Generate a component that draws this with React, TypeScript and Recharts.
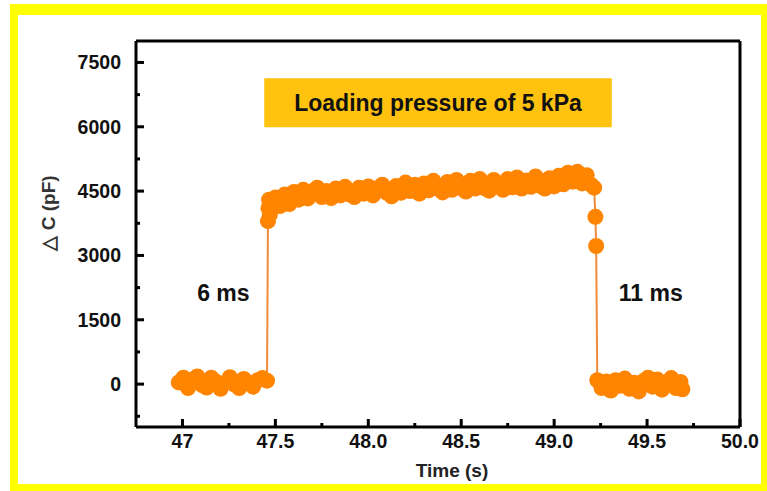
import React from 'react'
import {
  LineChart,
  Line,
  XAxis,
  YAxis,
  ReferenceArea,
  ReferenceDot,
  ReferenceLine,
  Label,
} from 'recharts'

const preTime = [46.98, 47.005, 47.03, 47.055, 47.08, 47.105, 47.13, 47.155, 47.18, 47.205, 47.23, 47.255, 47.28, 47.305, 47.33, 47.355, 47.38, 47.405, 47.43, 47.455]
const preValue = [40, 150, -90, 110, 180, -20, -80, 150, 60, -110, 30, 160, -10, -90, 120, 30, -60, 90, 140, 80]

const riseTime = [47.46, 47.463, 47.466, 47.47]
const riseValue = [3800, 4100, 4300, 3950]

const plateauTime = [
  47.475, 47.5, 47.525, 47.55, 47.575, 47.6, 47.625, 47.65, 47.675, 47.7,
  47.725, 47.75, 47.775, 47.8, 47.825, 47.85, 47.875, 47.9, 47.925, 47.95,
  47.975, 48.0, 48.025, 48.05, 48.075, 48.1, 48.125, 48.15, 48.175, 48.2,
  48.225, 48.25, 48.275, 48.3, 48.325, 48.35, 48.375, 48.4, 48.425, 48.45,
  48.475, 48.5, 48.525, 48.55, 48.575, 48.6, 48.625, 48.65, 48.675, 48.7,
  48.725, 48.75, 48.775, 48.8, 48.825, 48.85, 48.875, 48.9, 48.925, 48.95,
  48.975, 49.0, 49.025, 49.05, 49.075, 49.1, 49.125, 49.15, 49.175, 49.2,
  49.215,
]
const plateauValue = [
  4050, 4350, 4150, 4420, 4200, 4480, 4300, 4530, 4330, 4500,
  4580, 4360, 4500, 4340, 4560, 4400, 4600, 4420, 4360, 4580,
  4440, 4610, 4400, 4570, 4650, 4460, 4380, 4620, 4460, 4700,
  4500, 4650, 4440, 4680, 4520, 4740, 4560, 4470, 4710, 4530,
  4760, 4570, 4490, 4740, 4560, 4780, 4570, 4510, 4760, 4600,
  4530, 4780, 4590, 4820, 4560, 4750, 4600, 4840, 4620, 4560,
  4800, 4610, 4860, 4660, 4930, 4720, 4950, 4680, 4870, 4640,
  4580,
]

const dropTime = [49.222, 49.226]
const dropValue = [3900, 3220]

const postTime = [49.232, 49.255, 49.28, 49.305, 49.33, 49.355, 49.38, 49.405, 49.43, 49.455, 49.48, 49.505, 49.53, 49.555, 49.58, 49.605, 49.63, 49.655, 49.68, 49.69]
const postValue = [90, -90, 60, -150, 90, -40, 130, -110, 30, -170, 70, 150, -60, 110, -130, 40, 140, -90, 50, -120]

const xTicks = [47, 47.25, 47.5, 47.75, 48, 48.25, 48.5, 48.75, 49, 49.25, 49.5, 49.75, 50]
const xTickLabels: Record<number, string> = {
  47: '47', 47.5: '47.5', 48: '48.0', 48.5: '48.5', 49: '49.0', 49.5: '49.5', 50: '50.0',
}
const yTicks = [-750, 0, 750, 1500, 2250, 3000, 3750, 4500, 5250, 6000, 6750, 7500]
const yMajor = [0, 1500, 3000, 4500, 6000, 7500]

const data = [
  ...preTime.map((t, i) => ({ t, c: preValue[i] })),
  ...riseTime.map((t, i) => ({ t, c: riseValue[i] })),
  ...plateauTime.map((t, i) => ({ t, c: plateauValue[i] })),
  ...dropTime.map((t, i) => ({ t, c: dropValue[i] })),
  ...postTime.map((t, i) => ({ t, c: postValue[i] })),
]

const FONT = '"Liberation Sans", Arial, sans-serif'
const ORANGE = '#FF8500'

function XTick({ x, y, payload }: any) {
  const label = xTickLabels[payload.value]
  const major = label !== undefined
  return (
    <g>
      <line x1={x} x2={x} y1={y} y2={y - (major ? 8 : 4)} stroke="#000" strokeWidth={3} />
      {major && (
        <text x={x} y={y + 21} textAnchor="middle" fontFamily={FONT} fontWeight="bold" fontSize={19.5} fill="#111">
          {label}
        </text>
      )}
    </g>
  )
}

function YTick({ x, y, payload }: any) {
  const major = yMajor.includes(payload.value)
  return (
    <g>
      <line x1={x} x2={x + (major ? 8 : 4)} y1={y} y2={y} stroke="#000" strokeWidth={3} />
      {major && (
        <text x={x - 15} y={y + 7} textAnchor="end" fontFamily={FONT} fontWeight="bold" fontSize={19.5} fill="#111">
          {payload.value}
        </text>
      )}
    </g>
  )
}

export default function App() {
  return (
    <div
      style={{
        position: 'fixed',
        left: 0,
        top: 0,
        width: 767,
        height: 491,
        background: '#fff',
      }}
    >
      <div
        style={{
          position: 'absolute',
          left: 10,
          top: 4,
          width: 767 - 10 - 8 - 6,
          height: 491 - 4 - 11 - 7,
          borderStyle: 'solid',
          borderColor: '#FFFF00',
          borderWidth: '11px 6px 7px 8px',
        }}
      />
      <LineChart
        width={767}
        height={491}
        data={data}
        margin={{ top: 41, right: 27, bottom: 24, left: 80 }}
        style={{ position: 'absolute', left: 0, top: 0 }}
      >
        <XAxis
          dataKey="t"
          type="number"
          domain={[46.75, 50]}
          ticks={xTicks}
          interval={0}
          tickLine={false}
          tickSize={0}
          tickMargin={0}
          tick={<XTick />}
          height={40}
          axisLine={{ stroke: '#000', strokeWidth: 3 }}
        >
          <Label
            content={() => (
              <text x={452} y={477} textAnchor="middle" fontFamily={FONT} fontWeight="bold" fontSize={19} fill="#222">
                Time (s)
              </text>
            )}
          />
        </XAxis>
        <YAxis
          type="number"
          domain={[-1000, 8000]}
          ticks={yTicks}
          interval={0}
          tickLine={false}
          tickSize={0}
          tickMargin={0}
          tick={<YTick />}
          width={56}
          axisLine={{ stroke: '#000', strokeWidth: 3 }}
        >
          <Label
            content={() => (
              <text
                x={48}
                y={213}
                transform="rotate(-90 48 213)"
                textAnchor="middle"
                dominantBaseline="central"
                fontFamily={FONT}
                fontWeight="bold"
                fontSize={19}
                fill="#333"
              >
                △ C (pF)
              </text>
            )}
          />
        </YAxis>
        <ReferenceLine y={8000} stroke="#000" strokeWidth={3} />
        <ReferenceLine x={50} stroke="#000" strokeWidth={3} />
        <ReferenceArea
          x1={47.44}
          x2={49.31}
          y1={5990}
          y2={7130}
          fill="#FFC20E"
          fillOpacity={1}
          stroke="none"
          label={{ value: 'Loading pressure of 5 kPa', position: 'center', fontFamily: FONT, fontWeight: 'bold', fontSize: 23, fill: '#111' }}
        />
        <ReferenceDot
          x={47.22}
          y={2120}
          r={0}
          stroke="none"
          fill="none"
          label={{ value: '6 ms', position: 'center', fontFamily: FONT, fontWeight: 'bold', fontSize: 23, fill: '#111' }}
        />
        <ReferenceDot
          x={49.52}
          y={2120}
          r={0}
          stroke="none"
          fill="none"
          label={{ value: '11 ms', position: 'center', fontFamily: FONT, fontWeight: 'bold', fontSize: 23, fill: '#111' }}
        />
        <Line
          type="linear"
          dataKey="c"
          stroke="#EE8A3C"
          strokeWidth={2}
          dot={{ r: 8, fill: ORANGE, stroke: 'none' }}
          activeDot={false}
          isAnimationActive={false}
        />
      </LineChart>
    </div>
  )
}
